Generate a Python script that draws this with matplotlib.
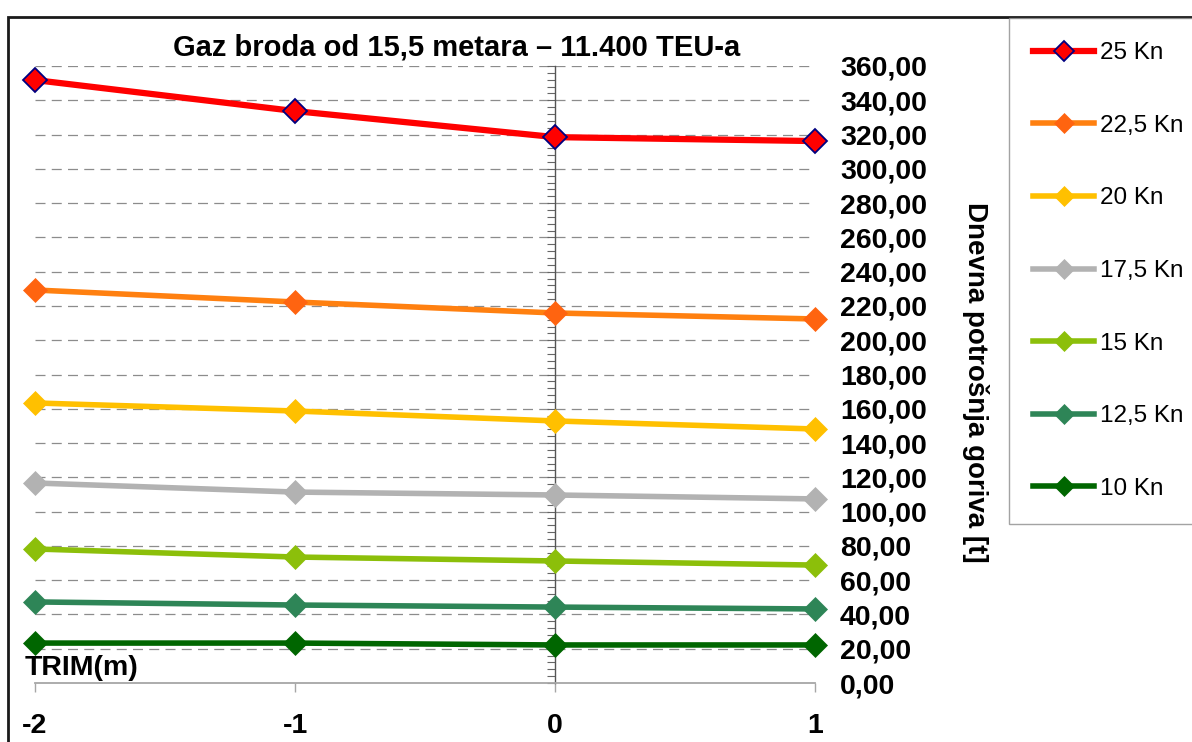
import matplotlib
matplotlib.use("Agg")
import matplotlib.pyplot as plt
from matplotlib.ticker import MultipleLocator, FuncFormatter
from matplotlib.patches import Rectangle

plt.rcParams['font.family'] = ['Liberation Sans', 'DejaVu Sans']

trim = [-2, -1, 0, 1]
series_names = ["25 Kn", "22,5 Kn", "20 Kn", "17,5 Kn", "15 Kn", "12,5 Kn", "10 Kn"]
kn25 = [351.8, 333.7, 318.5, 316.2]
kn225 = [229.3, 222.3, 215.9, 212.4]
kn20 = [163.4, 158.7, 152.9, 148.2]
kn175 = [116.7, 111.4, 109.7, 107.4]
kn15 = [78.2, 73.5, 71.2, 68.8]
kn125 = [47.3, 45.5, 44.3, 43.2]
kn10 = [23.3, 23.3, 22.2, 22.2]
values = [kn25, kn225, kn20, kn175, kn15, kn125, kn10]
line_colors = ['#FF0000', '#FF8010', '#FFC000', '#B2B2B2', '#8CBF0A', '#2E8557', '#006600']
marker_faces = ['#FF0000', '#FF6410', '#FFC000', '#B2B2B2', '#8CBF0A', '#2E8557', '#006600']
marker_edges = ['#000080', '#FF6410', '#FFC000', '#B2B2B2', '#8CBF0A', '#2E8557', '#006600']
y_ticks = list(range(0, 361, 20))

W, H = 1192, 742
fig = plt.figure(figsize=(W / 100, H / 100), dpi=100)
ax = fig.add_axes([35 / W, (H - 683) / H, (815 - 35) / W, (683 - 66) / H])

ax.set_xlim(-2, 1)
ax.set_ylim(0, 360)

for name, vals, lc, mf, me in zip(series_names, values, line_colors, marker_faces, marker_edges):
    lw = 4.5 if name == "25 Kn" else 4
    ax.plot(trim, vals, color=lc, lw=lw, marker='D', ms=12.5, mfc=mf, mec=me,
            mew=1.3 if name == "25 Kn" else 0.5, clip_on=False, zorder=5, label=name)

# grid
for v in y_ticks[1:]:
    ax.axhline(v, color='#8c8c8c', lw=0.9, ls=(0, (8, 5)), zorder=1)

# spines
for s in ['top', 'right']:
    ax.spines[s].set_visible(False)
ax.spines['left'].set_position(('data', 0))
ax.spines['left'].set_color('#555555')
ax.spines['left'].set_linewidth(1.0)
ax.spines['bottom'].set_color('#a6a6a6')
ax.spines['bottom'].set_linewidth(1.3)

ax.yaxis.set_major_locator(MultipleLocator(20))
ax.yaxis.set_minor_locator(MultipleLocator(4))
ax.yaxis.set_major_formatter(FuncFormatter(lambda v, p: f"{v:.2f}".replace('.', ',')))
ax.tick_params(axis='y', which='both', left=True, right=False, labelleft=False,
               labelright=True, direction='out', length=5.5, width=0.8, color='#666666',
               pad=12.5, labelsize=20.5)
for lab in ax.get_yticklabels():
    lab.set_fontweight('bold')

ax.set_xticks(trim)
ax.set_xticklabels([str(t) for t in trim], fontweight='bold')
ax.tick_params(axis='x', direction='out', length=6.5, width=1.0, color='#a6a6a6',
               pad=15, labelsize=20.5)

# texts
fig.text(457 / W, 1 - 47 / H, "Gaz broda od 15,5 metara – 11.400 TEU-a",
         ha='center', va='center', fontsize=21, fontweight='bold')
fig.text(25 / W, 1 - 668 / H, "TRIM(m)", ha='left', va='center', fontsize=20.5,
         fontweight='bold')
fig.text(975 / W, 1 - 382 / H, "Dnevna potrošnja goriva [t]", ha='center', va='center',
         rotation=-90, fontsize=20, fontweight='bold')

# outer frame
fig.patches.append(Rectangle((8 / W, -0.5), 2.0, 1 - 17 / H + 0.5, transform=fig.transFigure,
                             fill=False, edgecolor='#1a1a1a', lw=2.0, zorder=0))

handles, labels = ax.get_legend_handles_labels()
leg = fig.legend(handles, labels, loc='upper left', bbox_to_anchor=(1009 / W, 1 - 18 / H),
                 fontsize=17.5, frameon=True, fancybox=False, edgecolor='#8c8c8c',
                 labelspacing=2.08, borderpad=1.0, handlelength=2.5, handletextpad=0.25,
                 borderaxespad=0, markerscale=0.8)
leg.get_frame().set_linewidth(1.0)

fig.savefig('out.png', dpi=100)
